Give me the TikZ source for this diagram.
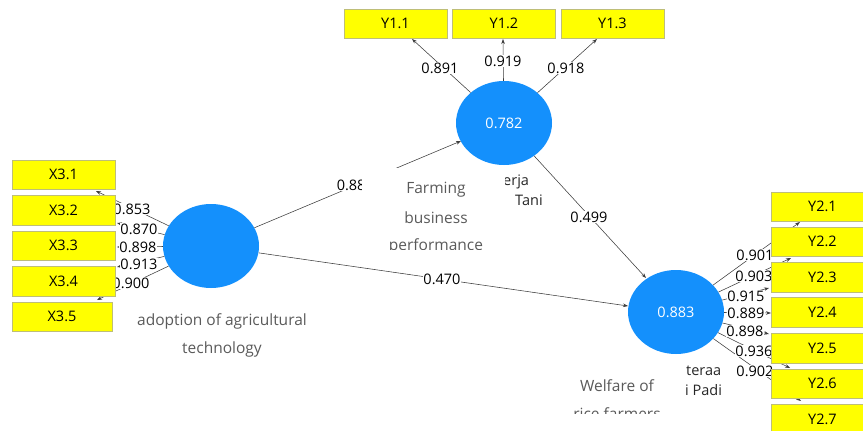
\documentclass[tikz,border=0pt]{standalone}
\usepackage{fontspec}
\setmainfont{Open Sans}
\usetikzlibrary{shapes.geometric,arrows.meta}
\definecolor{lvblue}{RGB}{20,144,252}
\definecolor{mvyellow}{RGB}{255,255,0}
\definecolor{mvedge}{RGB}{190,190,120}
\definecolor{lvtext}{RGB}{90,90,90}
\definecolor{pathline}{RGB}{60,60,60}
\tikzset{
  latent/.style={ellipse,fill=lvblue,draw=none,minimum width=96pt,minimum height=84pt,inner sep=0pt,text=white,font=\fontsize{14.5}{16}\selectfont},
  indic/.style={rectangle,fill=mvyellow,draw=mvedge,line width=0.4pt,minimum width=103pt,minimum height=29.5pt,inner sep=0pt,font=\fontsize{14.5}{16}\selectfont},
  conn/.style={draw=pathline,line width=0.55pt,-{Stealth[length=5pt,width=3.6pt]}},
  coef/.style={fill=white,inner sep=0.6pt,font=\fontsize{14.5}{16}\selectfont},
  lvname/.style={text=lvtext,font=\fontsize{15.5}{17}\selectfont,inner sep=0pt},
  partname/.style={text=black!85,font=\fontsize{14.5}{16}\selectfont,inner sep=0pt},
  cover/.style={fill=white,draw=none}
}
\begin{document}
\begin{tikzpicture}[x=1pt,y=-1pt]
\useasboundingbox (0,0) rectangle (863,431);
\begin{scope}
\clip (0,0) rectangle (863,431);
% latent variables
\node[latent] (adopt) at (211,246) {};
\node[latent] (perf) at (504,123) {0.782};
\node[latent] (welf) at (676,312) {0.883};
% arrow tips
\coordinate (t31) at (96,191);
\coordinate (t32) at (117,223);
\coordinate (t33) at (117,247);
\coordinate (t34) at (117,267);
\coordinate (t35) at (97,300);
\coordinate (t11) at (412,39);
\coordinate (t12) at (503,39);
\coordinate (t13) at (597,39);
\coordinate (t21) at (800,222);
\coordinate (t22) at (791,258);
\coordinate (t23) at (769,288);
\coordinate (t24) at (771,313);
\coordinate (t25) at (769,334);
\coordinate (t26) at (790,368);
\coordinate (t27) at (801,401);
\coordinate (tperf) at (461,141);
\coordinate (twelfA) at (646,278);
\coordinate (twelfB) at (628,306);
% connectors
\foreach \t in {t31,t32,t33,t34,t35}{\draw[conn] (adopt) -- (\t);}
\foreach \t in {t11,t12,t13}{\draw[conn] (perf) -- (\t);}
\foreach \t in {t21,t22,t23,t24,t25,t26,t27}{\draw[conn] (welf) -- (\t);}
\draw[conn] (adopt) -- (tperf);
\draw[conn] (perf) -- (twelfA);
\draw[conn] (adopt) -- (twelfB);
% coefficients
\node[coef] (c31) at (132,209) {0.853};
\node[coef] (c32) at (139,229) {0.870};
\node[coef] (c33) at (138,247) {0.898};
\node[coef] (c34) at (139,264) {0.913};
\node[coef] (c35) at (131,283) {0.900};
\node[coef] (c11) at (440,68) {0.891};
\node[coef] (c12) at (503,61) {0.919};
\node[coef] (c13) at (566,68) {0.918};
\node[coef] (c21) at (755,255) {0.901};
\node[coef] (c22) at (754,276) {0.903};
\node[coef] (c23) at (746,296) {0.915};
\node[coef] (c24) at (746,313) {0.889};
\node[coef] (c25) at (745,331) {0.898};
\node[coef] (c26) at (754,351) {0.936};
\node[coef] (c27) at (755,371) {0.902};
\node[coef,anchor=west] (cap) at (336,185) {0.88};
\node[coef] (cpw) at (589,217) {0.499};
\node[coef] (caw) at (442,279) {0.470};
% indicators
\node[indic] (x31) at (63.5,174.5) {X3.1};
\node[indic] (x32) at (63.5,210) {X3.2};
\node[indic] (x33) at (63.5,245.5) {X3.3};
\node[indic] (x34) at (63.5,281) {X3.4};
\node[indic,minimum width=100pt] (x35) at (62,316.5) {X3.5};
\node[indic] (y11) at (395.5,23.5) {Y1.1};
\node[indic] (y12) at (504,23.5) {Y1.2};
\node[indic] (y13) at (612.5,23.5) {Y1.3};
\node[indic] (y21) at (822.5,206.5) {Y2.1};
\node[indic] (y22) at (822.5,241.5) {Y2.2};
\node[indic] (y23) at (822.5,277) {Y2.3};
\node[indic] (y24) at (822.5,312) {Y2.4};
\node[indic] (y25) at (822.5,348) {Y2.5};
\node[indic] (y26) at (822.5,383.5) {Y2.6};
\node[indic] (y27) at (822.5,419) {Y2.7};
% latent names
\node[lvname] (adoptA) at (222,321) {adoption of agricultural};
\node[lvname] (adoptB) at (222,349) {technology};
\node[partname,anchor=west] (perfA) at (503,182) {erja};
\node[partname,anchor=west] (perfB) at (515,200) {Tani};
\node[partname,anchor=west] (welfA) at (686,371) {teraa};
\node[partname,anchor=west] (welfB) at (685,390) {i Padi};
% overlay label blocks
\fill[cover] (362,168) rectangle (505,249);
\begin{scope}
\clip (362,168) rectangle (505,249);
\node[lvname] (farmA) at (436,190) {Farming};
\node[lvname] (farmB) at (436,218) {business};
\node[lvname] (farmC) at (436,246) {performance};
\end{scope}
\fill[cover] (560,374) rectangle (683,413);
\begin{scope}
\clip (560,374) rectangle (683,413);
\node[lvname] (welfC) at (617,386) {Welfare of};
\node[lvname] (welfD) at (617,414) {rice farmers};
\end{scope}
\end{scope}
\end{tikzpicture}
\end{document}
